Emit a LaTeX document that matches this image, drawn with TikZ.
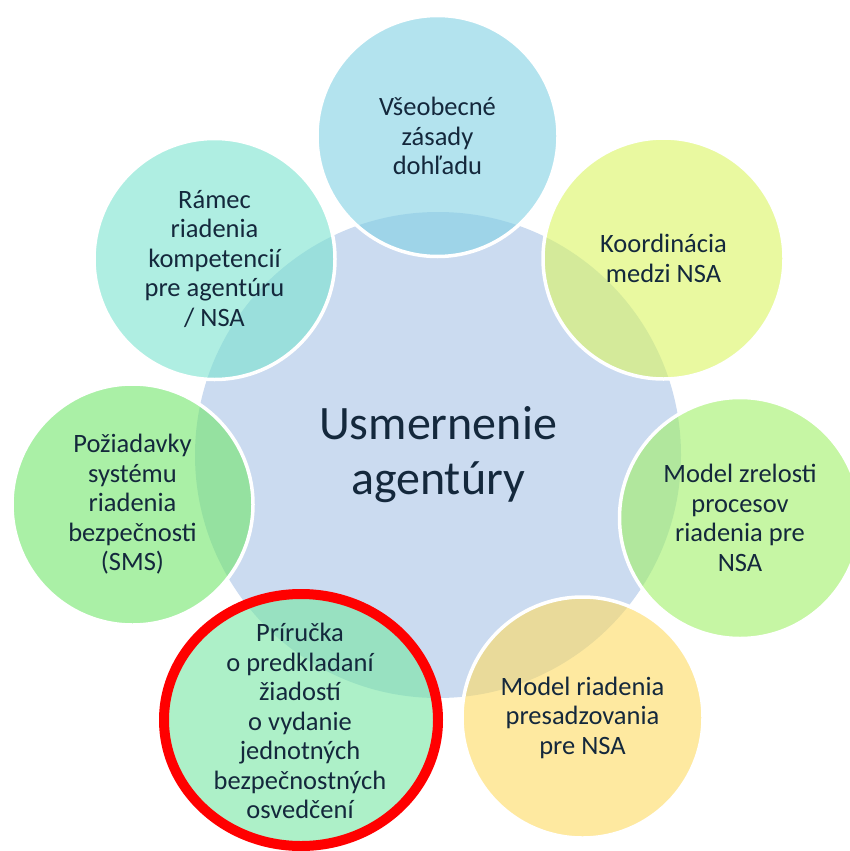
\documentclass[tikz,border=0pt]{standalone}
\usepackage{fontspec}
\setmainfont{Carlito}
\usetikzlibrary{shapes.geometric}
\definecolor{hubc}{RGB}{203,219,240}
\definecolor{inkc}{RGB}{20,40,60}
\definecolor{dohladc}{RGB}{128,208,227}
\definecolor{koorc}{RGB}{218,245,97}
\definecolor{zrelc}{RGB}{160,240,103}
\definecolor{presc}{RGB}{253,218,97}
\definecolor{pricc}{RGB}{118,230,163}
\definecolor{pozc}{RGB}{113,230,107}
\definecolor{ramc}{RGB}{122,227,207}
\tikzset{
  bubble/.style={circle, minimum size=241pt, inner sep=0pt, draw=white, line width=3.5pt, fill opacity=0.6},
  txt/.style={align=center, text=inkc, font=\fontsize{26.5}{29.5}\selectfont},
}
\begin{document}
\begin{tikzpicture}[x=1pt,y=-1pt]
\useasboundingbox (0,0) rectangle (849,851);

% centre
\node[circle, minimum size=486pt, inner sep=0pt, fill=hubc] (hub) at (438,455) {};

% outer bubbles
\node[bubble, fill=dohladc] (dohlad) at (437.5,136) {};
\node[bubble, fill=koorc] (koor) at (663.5,258.5) {};
\node[bubble, fill=zrelc] (zrel) at (740,518) {};
\node[bubble, fill=presc] (pres) at (582.5,717.5) {};
\node[ellipse, minimum width=274pt, minimum height=252pt, inner sep=0pt, draw=red, line width=10pt, fill=pricc, fill opacity=0.6] (pric) at (301,720) {};
\node[bubble, fill=pozc] (poz) at (132.5,504.5) {};
\node[bubble, fill=ramc] (ram) at (214.5,259) {};

% texts
\node[txt, font=\fontsize{48}{55}\selectfont] (hubtxt) at (hub) {Usmernenie\\agentúry};
\node[txt] (dohladtxt) at (dohlad) {Všeobecné\\zásady\\dohľadu};
\node[txt] (koortxt) at (koor) {Koordinácia\\medzi NSA};
\node[txt] (zreltxt) at (zrel) {Model zrelosti\\procesov\\riadenia pre\\NSA};
\node[txt] (prestxt) at (pres) {Model riadenia\\presadzovania\\pre NSA};
\node[txt] (prictxt) at (300,721) {Príručka\\o predkladaní\\žiadostí\\o vydanie\\jednotných\\bezpečnostných\\osvedčení};
\node[txt] (poztxt) at (poz) {Požiadavky\\systému\\riadenia\\bezpečnosti\\(SMS)};
\node[txt] (ramtxt) at (ram) {Rámec\\riadenia\\kompetencií\\pre agentúru\\/ NSA};
\end{tikzpicture}
\end{document}
